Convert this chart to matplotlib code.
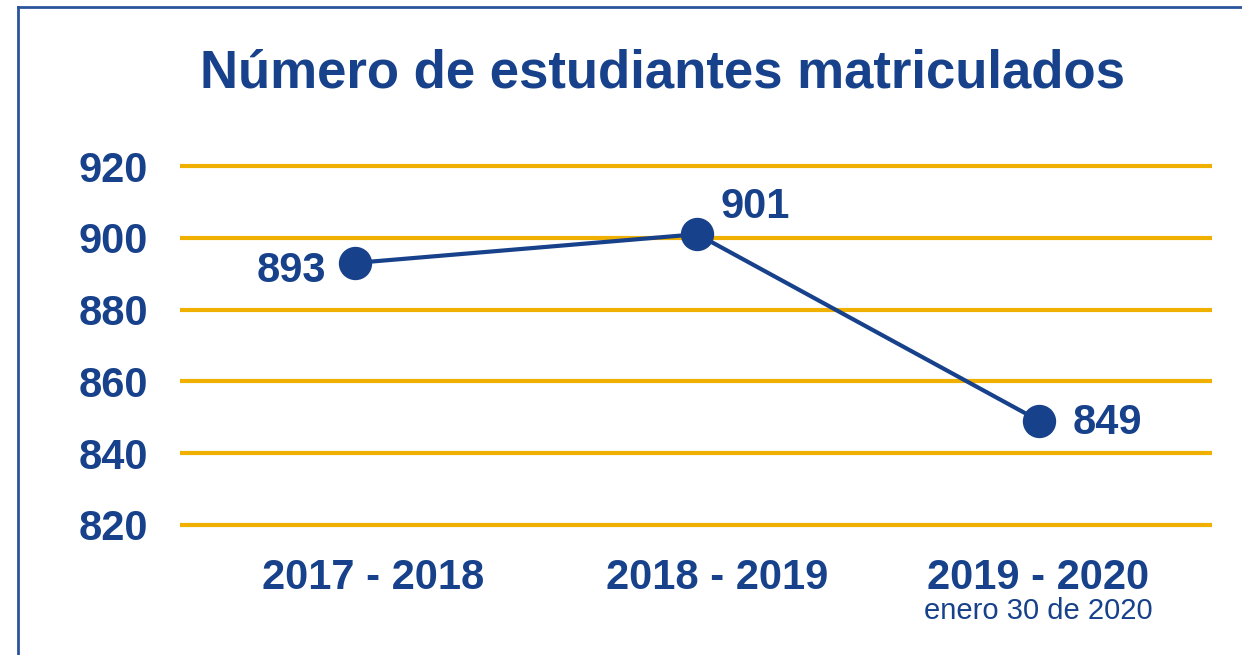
import matplotlib.pyplot as plt
from matplotlib.lines import Line2D

plt.rcParams['font.family'] = ['Liberation Sans', 'DejaVu Sans']

# Datos
periodos = ["2017 - 2018", "2018 - 2019", "2019 - 2020"]
estudiantes = [893, 901, 849]
y_ticks = [820, 840, 860, 880, 900, 920]
nota_fecha = "enero 30 de 2020"
titulo = "Número de estudiantes matriculados"

azul = '#17418a'
amarillo = '#f0b000'

fig = plt.figure(figsize=(12.42, 6.55), dpi=100)
ax = fig.add_axes([180 / 1242, 1 - 525 / 655, (1212 - 180) / 1242, (525 - 166) / 655])

x = list(range(len(periodos)))
ax.set_xlim(-0.512, 2.505)
ax.set_ylim(y_ticks[0], y_ticks[-1])

# lignes horizontales jaunes
ax.hlines(y_ticks, -0.512, 2.505, colors=amarillo, linewidth=3, clip_on=False, zorder=1)

ax.plot(x, estudiantes, color=azul, linewidth=3, marker='o', markersize=23,
        clip_on=False, zorder=3)

# étiquettes des valeurs
offsets = [(-64, -8), (58, 27), (68, -2)]
for xi, val, off in zip(x, estudiantes, offsets):
    ax.annotate(str(val), (xi, val), xytext=off, textcoords='offset pixels',
                ha='center', va='center', fontsize=30, fontweight='bold', color=azul)

ax.set_yticks(y_ticks)
ax.set_yticklabels([str(t) for t in y_ticks], fontsize=30, fontweight='bold', color=azul)
ax.tick_params(axis='y', length=0, pad=23)
ax.set_xticks([])
for s in ax.spines.values():
    s.set_visible(False)

# étiquettes de l'axe x (légèrement décalées comme l'original)
x_shift = [0.053, 0.058, -0.003]
for xi, lab, dx in zip(x, periodos, x_shift):
    ax.annotate(lab, (xi + dx, 820), xytext=(0, -53), textcoords='offset pixels',
                ha='center', va='center', fontsize=30, fontweight='bold', color=azul,
                annotation_clip=False)
ax.annotate(nota_fecha, (2 - 0.003, 820), xytext=(0, -86), textcoords='offset pixels',
            ha='center', va='center', fontsize=21, color=azul, annotation_clip=False)

fig.text(662 / 1242, 1 - 74 / 655, titulo, ha='center', va='center', fontsize=38,
         fontweight='bold', color=azul)

# cadre
fig.add_artist(Line2D([18 / 1242, 18 / 1242], [0, 1 - 7 / 655], color='#2a559c', linewidth=2))
fig.add_artist(Line2D([18 / 1242, 1], [1 - 7 / 655, 1 - 7 / 655], color='#2a559c', linewidth=2))

plt.savefig("out.png", dpi=100)
plt.close()
